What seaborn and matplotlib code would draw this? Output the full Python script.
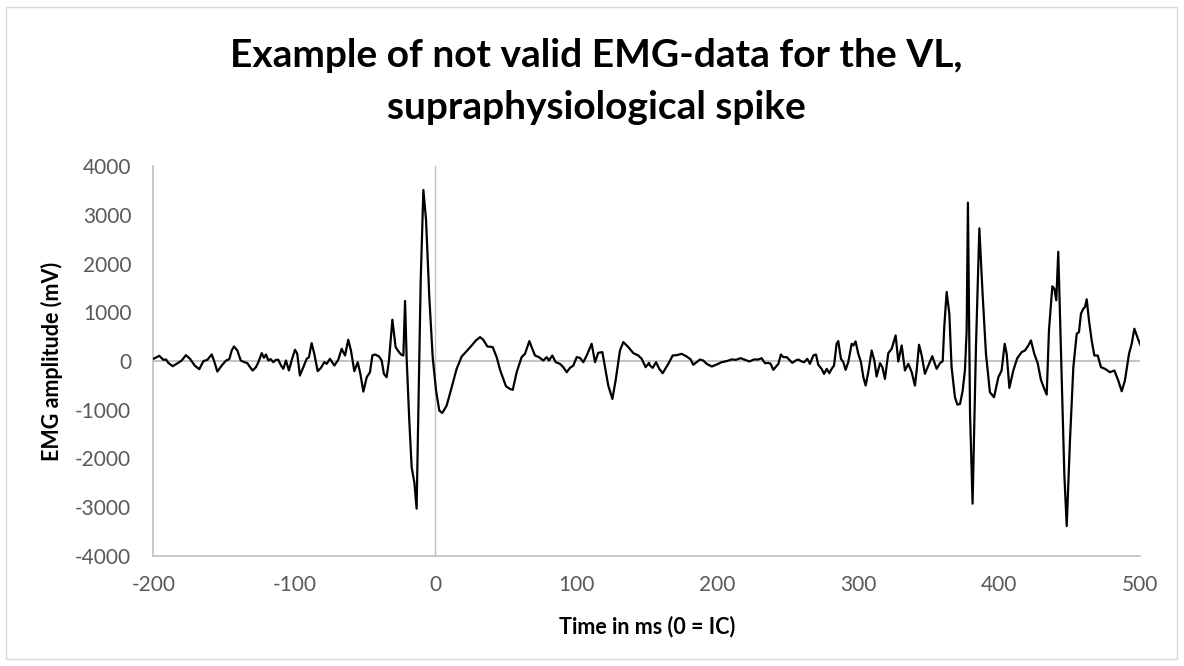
import numpy as np
import pandas as pd
import matplotlib
matplotlib.use("Agg")
import matplotlib.pyplot as plt
import matplotlib.patches as mpatches
import seaborn as sns

# ---- data (time in ms, EMG amplitude in mV) ----
time_ms = [
    -200.0, -195.9, -193.0, -191.1, -189.5, -186.4, -183.6, -180.0, -177.0, -174.1,
    -170.6, -167.5, -164.6, -161.8, -158.7, -157.1, -154.7, -151.6, -148.5, -146.2,
    -144.5, -142.9, -140.5, -138.1, -135.5, -133.4, -131.5, -129.6, -127.3, -125.6,
    -123.2, -121.6, -120.2, -118.5, -116.9, -115.0, -113.1,
    -111.4, -109.5, -107.9, -106.0, -103.9, -102.0, -99.6, -98.0, -96.1, -93.7,
    -91.3, -89.7, -87.8, -85.9, -83.5, -81.2, -78.8, -77.1, -74.8, -71.7,
    -68.9, -66.5, -64.1, -61.8, -59.9, -57.5, -55.1, -53.2, -51.1, -48.7,
    -46.4, -44.7, -42.8, -40.0, -38.1, -36.5, -34.6, -32.9, -30.5, -28.2,
    -26.3, -24.4,
    -22.7, -21.5, -20.4, -18.5, -16.8, -14.9, -13.3, -12.1, -10.4, -8.5,
    -6.6, -4.3, -1.9, 0.5, 2.8, 4.9, 8.0, 11.6, 15.1, 18.7,
    22.2, 25.8, 28.8, 31.7, 34.0, 36.9, 40.7, 43.5, 45.9, 50.1,
    53.0, 54.9, 57.7, 61.2, 63.6, 66.7,
    68.3, 70.7, 73.5, 76.6, 79.0, 80.6, 83.0, 85.4, 88.4, 90.8,
    93.2, 95.5, 97.9, 100.3, 102.6, 105.0, 107.4, 110.9, 113.3, 115.6,
    118.5, 120.4, 122.7, 125.6, 127.9, 131.0, 133.4, 136.9, 140.5, 144.0,
    146.4, 149.2, 151.6,
    152.3, 154.2, 156.6, 158.9, 161.3, 165.3, 168.4, 171.2, 174.8, 178.3,
    181.2, 183.0, 185.4, 187.8, 190.1, 192.5, 196.1, 199.6, 203.2, 206.7,
    210.2, 213.3, 216.6, 219.7, 222.8, 226.1, 229.2, 231.5, 233.9, 236.3,
    237.9, 239.8,
    241.0, 243.4, 245.2, 246.9, 249.3, 251.6, 253.3, 255.7, 257.5, 259.9,
    261.8, 263.9, 265.8, 268.2, 270.1, 271.7, 274.1, 275.8, 277.7, 279.5,
    281.2, 282.9, 284.7, 285.9, 287.8, 289.5, 291.1, 293.0, 295.4, 296.6,
    298.2, 300.1, 302.0, 303.7, 305.3, 307.2, 309.6, 311.5, 313.1, 315.5,
    317.2, 319.0, 321.4, 323.8, 326.6, 328.5, 330.9,
    333.2, 335.6, 338.0, 340.3, 341.5, 343.2, 345.1, 347.4, 349.8, 352.6,
    355.7, 358.1, 360.0, 361.1, 362.8, 364.7, 366.3, 368.7, 370.4, 372.3,
    374.1, 375.8, 377.0, 377.9, 379.4, 381.2, 383.6, 386.0, 388.3, 390.7,
    393.5, 396.4, 399.5, 401.8, 404.0, 405.4, 407.3, 410.1, 412.9, 416.0,
    418.4, 420.8, 422.6, 425.0, 427.4, 429.7, 432.1, 433.8, 435.4, 437.8,
    439.2, 440.6, 442.0, 444.4, 446.3, 448.0, 450.3, 452.7, 455.1, 456.7,
    458.1, 459.8, 461.0, 462.2, 463.8, 465.7, 467.6, 470.0, 472.3, 475.2,
    478.7, 481.8, 484.6, 487.0, 489.3, 492.2, 494.1, 496.0, 498.8, 500.7,
]

emg_mv = [
    45, 106, 24, 31, -38, -106, -58, 10, 120, 45,
    -99, -168, -3, 24, 134, 10, -216, -93, 10, 38,
    216, 298, 216, 10, -24, -45, -127, -195, -127, -24,
    161, 65, 134, 10, 38, -24, 24,
    24, -93, -161, 10, -195, 10, 230, 147, -298, -127,
    45, 79, 367, 147, -209, -141, -24, -58, 45, -93,
    24, 250, 113, 436, 216, -209, -24, -264, -628, -333,
    -230, 113, 134, 93, 10, -264, -333, 10, 847, 285,
    202, 134,
    113, 1231, 79, -1224, -2185, -2493, -3028, -1087, 1656, 3508,
    2891, 1313, 79, -607, -1018, -1066, -916, -538, -161, 93,
    202, 319, 422, 490, 436, 298, 285, 79, -182, -518,
    -573, -593, -230, 79, 147, 408,
    285, 113, 79, 10, 79, 10, 113, -24, -58, -127,
    -230, -141, -93, 79, 65, -24, 113, 353, -24, 168,
    182, -127, -504, -778, -401, 216, 388, 285, 161, 113,
    45, -127, -38,
    -93, -141, -24, -161, -250, -58, 113, 120, 147, 93,
    31, -79, -24, 31, 10, -58, -113, -72, -24, -3,
    31, 24, 58, 24, -10, 31, 31, 58, -45, -38,
    -58, -182,
    -141, -58, 134, 79, 79, 10, -38, 10, 31, -10,
    -24, 45, -58, 113, 134, -79, -161, -264, -161, -250,
    -161, -93, 353, 408, 45, -24, -182, -24, 353, 319,
    401, 147, -24, -333, -504, -230, 216, 10, -319, -45,
    -127, -367, 161, 250, 525, -10, 319,
    -195, -58, -230, -504, -195, 333, 113, -264, -93, 99,
    -161, -45, -3, 696, 1416, 971, -127, -744, -895, -881,
    -621, -182, 628, 3248, -1087, -2927, 285, 2720, 1382, 147,
    -641, -744, -333, -195, 353, 147, -552, -195, 58, 182,
    216, 319, 422, 147, -45, -388, -573, -689, 628, 1533,
    1485, 1245, 2240, -264, -2322, -3385, -1636, -127, 559, 593,
    971, 1073, 1108, 1265, 833, 422, 113, 113, -127, -161,
    -230, -195, -401, -621, -401, 147, 353, 662, 436, 300,
]

x_ticks = [-200, -100, 0, 100, 200, 300, 400, 500]
y_ticks = [-4000, -3000, -2000, -1000, 0, 1000, 2000, 3000, 4000]

title_line1 = "Example of not valid EMG-data for the VL,"
title_line2 = "supraphysiological spike"
x_label = "Time in ms (0 = IC)"
y_label = "EMG amplitude (mV)"

# ---- plot ----
sns.set_style("white")
plt.rcParams["font.family"] = ["Lato", "DejaVu Sans"]
plt.rcParams["axes.unicode_minus"] = False

df = pd.DataFrame({"time": time_ms, "emg": emg_mv})

fig = plt.figure(figsize=(11.84, 6.66), dpi=100)
ax = fig.add_axes([153.5 / 1184, 1 - 556 / 666, (1140 - 153.5) / 1184, (556 - 166) / 666])

grey = "#bfbfbf"
ax.axhline(0, color=grey, lw=1.3, zorder=1)
ax.axvline(0, color=grey, lw=1.0, zorder=1)

sns.lineplot(data=df, x="time", y="emg", color="black", linewidth=1.6,
             sort=False, estimator=None, ax=ax, zorder=3)

ax.set_xlim(x_ticks[0], x_ticks[-1])
ax.set_ylim(y_ticks[0], y_ticks[-1])
ax.set_xticks(x_ticks)
ax.set_yticks(y_ticks)
ax.tick_params(axis="both", length=0, labelsize=15, labelcolor="#595959")
ax.tick_params(axis="y", pad=16)
ax.tick_params(axis="x", pad=14)

for side in ["top", "right"]:
    ax.spines[side].set_visible(False)
for side in ["left", "bottom"]:
    ax.spines[side].set_color(grey)
    ax.spines[side].set_linewidth(1.2)

ax.set_xlabel(x_label, fontsize=15.5, fontweight="bold", color="black")
ax.set_ylabel(y_label, fontsize=15.5, fontweight="bold", color="black")
ax.xaxis.set_label_coords(0.5, (556 - 627) / 390, transform=ax.transAxes)
ax.yaxis.set_label_coords((52 - 153.5) / 986.5, 0.5, transform=ax.transAxes)
ax.xaxis.label.set_va("center")
ax.yaxis.label.set_va("center")

fig.text(596 / 1184, 1 - 67 / 666, title_line1, ha="center", va="baseline",
         fontsize=28, fontweight="bold", color="black")
fig.text(596 / 1184, 1 - 119 / 666, title_line2, ha="center", va="baseline",
         fontsize=28, fontweight="bold", color="black")

fig.patches.append(mpatches.Rectangle((6 / 1184, 7 / 666), (1177 - 6) / 1184, (659 - 7) / 666,
                                      transform=fig.transFigure, fill=False,
                                      edgecolor="#d9d9d9", lw=1.0))

fig.savefig("out.png", dpi=100, facecolor="white")
